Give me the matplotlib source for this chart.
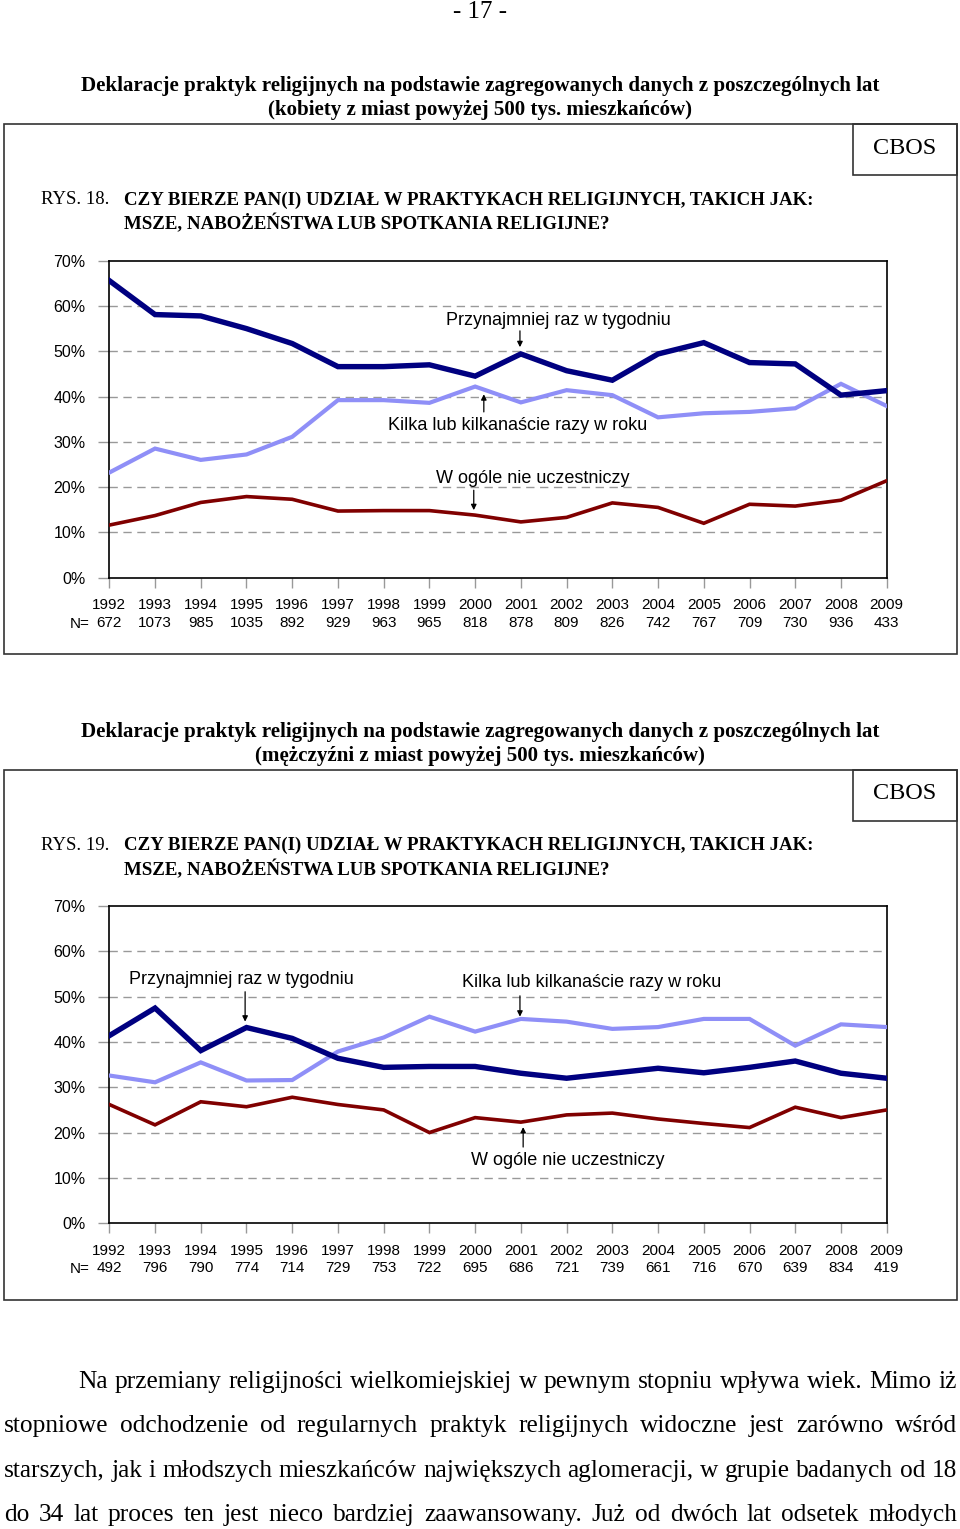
import numpy as np
import matplotlib.pyplot as plt
from matplotlib.patches import Rectangle

W, H = 960, 1529

years = [1992, 1993, 1994, 1995, 1996, 1997, 1998, 1999, 2000,
         2001, 2002, 2003, 2004, 2005, 2006, 2007, 2008, 2009]

# kobiety
n_k = [672, 1073, 985, 1035, 892, 929, 963, 965, 818,
       878, 809, 826, 742, 767, 709, 730, 936, 433]
tydz_k = [65.6, 58.1, 57.8, 55.0, 51.7, 46.6, 46.6, 47.0, 44.5,
          49.4, 45.7, 43.6, 49.4, 51.9, 47.5, 47.2, 40.3, 41.3]
rok_k = [23.2, 28.5, 26.0, 27.2, 31.1, 39.2, 39.2, 38.6, 42.2,
         38.7, 41.4, 40.3, 35.4, 36.3, 36.6, 37.4, 42.8, 37.9]
nie_k = [11.6, 13.7, 16.6, 17.9, 17.3, 14.7, 14.8, 14.8, 13.8,
         12.3, 13.3, 16.5, 15.5, 12.0, 16.2, 15.8, 17.1, 21.4]

# mezczyzni
n_m = [492, 796, 790, 774, 714, 729, 753, 722, 695,
       686, 721, 739, 661, 716, 670, 639, 834, 419]
tydz_m = [41.4, 47.5, 38.1, 43.2, 40.8, 36.4, 34.4, 34.6, 34.6,
          33.1, 32.0, 33.1, 34.2, 33.2, 34.4, 35.8, 33.1, 32.0]
rok_m = [32.6, 31.1, 35.5, 31.5, 31.6, 37.9, 41.0, 45.6, 42.3,
         45.1, 44.5, 42.9, 43.3, 45.1, 45.1, 39.2, 43.9, 43.3]
nie_m = [26.2, 21.7, 26.8, 25.7, 27.8, 26.2, 25.0, 20.0, 23.3,
         22.3, 23.9, 24.3, 23.0, 22.0, 21.1, 25.6, 23.3, 25.0]

lab_t = "Przynajmniej raz w tygodniu"
lab_r = "Kilka lub kilkanaście razy w roku"
lab_n = "W ogóle nie uczestniczy"

SANS = "Liberation Sans"
SERIF = "Liberation Serif"

fig = plt.figure(figsize=(W / 100, H / 100), dpi=100)


def fx(px):
    return px / W


def fy(py):
    return 1 - py / H


def frame(x0, y0, x1, y1):
    fig.patches.append(Rectangle((fx(x0), fy(y1)), fx(x1) - fx(x0), fy(y0) - fy(y1),
                                 transform=fig.transFigure, fill=False,
                                 lw=1.2, ec="#333333"))


def chart(top, nums, tydz, rok, nie, no, title2, ann):
    fig.text(fx(480), fy(top + 86), "Deklaracje praktyk religijnych na podstawie zagregowanych danych z poszczególnych lat",
             ha="center", va="center", family=SERIF, weight="bold", size=15.1)
    fig.text(fx(480), fy(top + 110), title2, ha="center", va="center",
             family=SERIF, weight="bold", size=15.1)
    frame(4, top + 124, 957, top + 654)
    frame(853, top + 124, 957, top + 175)
    fig.text(fx(905), fy(top + 148), "CBOS", ha="center", va="center",
             family=SERIF, size=17.5)
    fig.text(fx(41), fy(top + 200), f"RYS. {no}.", ha="left", va="center",
             family=SERIF, size=13.5)
    fig.text(fx(124), fy(top + 200), "CZY BIERZE PAN(I) UDZIAŁ W PRAKTYKACH RELIGIJNYCH, TAKICH JAK:",
             ha="left", va="center", family=SERIF, weight="bold", size=13.6)
    fig.text(fx(124), fy(top + 224), "MSZE, NABOŻEŃSTWA LUB SPOTKANIA RELIGIJNE?",
             ha="left", va="center", family=SERIF, weight="bold", size=13.6)

    y70 = top + 260.7
    y0 = top + 577.6
    ax = fig.add_axes([fx(109.3), fy(y0), fx(886.7) - fx(109.3), fy(y70) - fy(y0)])
    x = np.arange(len(years))
    ax.plot(x, nie, color="#800000", lw=2.6, solid_joinstyle="miter", zorder=3)
    ax.plot(x, rok, color="#8f8ff7", lw=3.0, solid_joinstyle="miter", zorder=3)
    ax.plot(x, tydz, color="#000080", lw=3.9, solid_joinstyle="miter", zorder=4)
    ax.set_xlim(0, len(years) - 1)
    ax.set_ylim(0, 70)
    ax.set_yticks(range(0, 71, 10))
    ax.set_yticklabels([f"{v}%" for v in range(0, 71, 10)], family=SANS, size=11.5)
    ax.set_xticks(x)
    ax.set_xticklabels([f"{y}\n{n}" for y, n in zip(years, nums)], family=SANS,
                       size=11, linespacing=1.28)
    ax.tick_params(axis="y", length=8, color="#999999", width=1, pad=9)
    ax.tick_params(axis="x", length=7, color="#999999", width=1, pad=8)
    for v in range(10, 70, 10):
        ax.axhline(v, color="#999999", lw=1, ls=(0, (6, 4)), zorder=1)
    for s in ax.spines.values():
        s.set_linewidth(1.2)
    ax.text(-0.42, -10.2, "N=", ha="right", va="center", family=SANS, size=11,
            clip_on=False)

    for label, tx, ty, ax0, ay0, ay1 in ann:
        ax.text(tx, ty, label, ha="center", va="center", family=SANS, size=13)
        ax.annotate("", xy=(ax0, ay1), xytext=(ax0, ay0),
                    arrowprops=dict(arrowstyle="-|>", lw=0.9, color="black",
                                    mutation_scale=8, shrinkA=0, shrinkB=0))
    return ax


ax1 = chart(0, n_k, tydz_k, rok_k, nie_k, 18,
            "(kobiety z miast powyżej 500 tys. mieszkańców)",
            [(lab_t, 9.81, 56.7, 8.98, 54.5, 50.9),
             (lab_r, 8.92, 33.5, 8.19, 36.6, 40.5),
             (lab_n, 9.27, 21.8, 7.97, 19.3, 14.9)])
ax2 = chart(645.5, n_m, tydz_m, rok_m, nie_m, 19,
            "(mężczyźni z miast powyżej 500 tys. mieszkańców)",
            [(lab_t, 2.88, 53.8, 2.97, 51.1, 44.5),
             (lab_r, 10.55, 53.1, 8.98, 50.2, 45.6),
             (lab_n, 10.03, 13.9, 9.05, 16.8, 21.2)])

fig.text(fx(480), fy(12), "- 17 -", ha="center", va="center", family=SERIF, size=18)

para = [
    "Na przemiany religijności wielkomiejskiej w pewnym stopniu wpływa wiek. Mimo iż",
    "stopniowe odchodzenie od regularnych praktyk religijnych widoczne jest zarówno wśród",
    "starszych, jak i młodszych mieszkańców największych aglomeracji, w grupie badanych od 18",
    "do 34 lat proces ten jest nieco bardziej zaawansowany. Już od dwóch lat odsetek młodych",
]
renderer = fig.canvas.get_renderer()
for i, line in enumerate(para):
    x0 = 78 if i == 0 else 4
    x1 = 957
    base = 1388 + i * 44.3
    words = line.split()
    ts = [fig.text(0, fy(base), w, ha="left", va="baseline", family=SERIF, size=18.3)
          for w in words]
    ws = [t.get_window_extent(renderer).width for t in ts]
    gap = (x1 - x0 - sum(ws)) / (len(words) - 1)
    cur = x0
    for t, w in zip(ts, ws):
        t.set_x(fx(cur))
        cur += w + gap

fig.savefig("out.png", dpi=100)
